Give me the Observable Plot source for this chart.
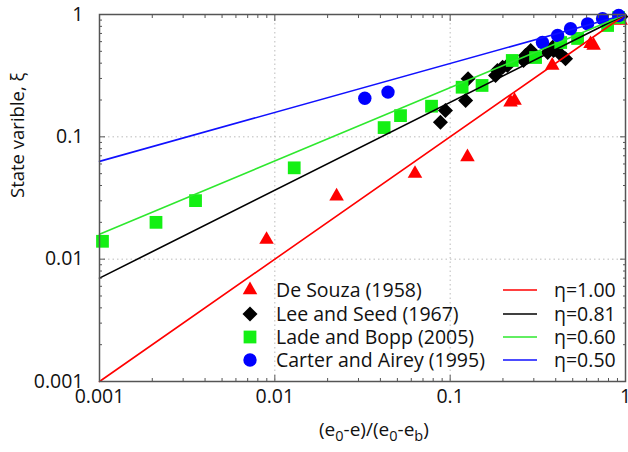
<!DOCTYPE html>
<html><head><meta charset="utf-8">
<script src="https://cdn.jsdelivr.net/npm/d3@7"></script>
<script src="https://cdn.jsdelivr.net/npm/@observablehq/plot@0.6"></script>
<style>
body{margin:0;background:#fff;font-family:"Open Sans",sans-serif;}
#wrap{position:relative;width:628px;height:452px;overflow:hidden;}
.ov{position:absolute;font-family:"Open Sans",sans-serif;font-size:19.5px;color:#111;white-space:nowrap;line-height:1;}
.xl{font-size:19px;}
.ov sub{font-size:14.5px;vertical-align:-5px;line-height:0;}
</style></head><body><div id="wrap"></div>
<script>
// ---- data ----
const deSouzaX = [0.00897, 0.0225, 0.063, 0.1255, 0.221, 0.233, 0.382, 0.632, 0.658, 0.938];
const deSouzaY = [0.01445, 0.0327, 0.050, 0.0684, 0.192, 0.198, 0.383, 0.576, 0.558, 0.893];

const leeSeedX = [0.088, 0.094, 0.1225, 0.1265, 0.1815, 0.186, 0.199, 0.212, 0.262, 0.269, 0.288, 0.360, 0.389, 0.427, 0.455, 0.384, 0.94];
const leeSeedY = [0.1316, 0.164, 0.198, 0.298, 0.317, 0.348, 0.371, 0.383, 0.421, 0.462, 0.508, 0.489, 0.508, 0.471, 0.434, 0.540, 0.96];

const ladeBoppX = [0.00104, 0.0021, 0.00353, 0.0129, 0.042, 0.0521, 0.0783, 0.117, 0.152, 0.226, 0.307, 0.427, 0.533, 0.791, 0.914];
const ladeBoppY = [0.014, 0.020, 0.0301, 0.0558, 0.119, 0.149, 0.178, 0.2544, 0.263, 0.421, 0.445, 0.590, 0.637, 0.813, 0.945];

const carterX = [0.0326, 0.0442, 0.336, 0.410, 0.486, 0.608, 0.740, 0.914];
const carterY = [0.207, 0.232, 0.590, 0.673, 0.764, 0.839, 0.922, 0.98];

const seriesNames = ["De Souza (1958)", "Lee and Seed (1967)", "Lade and Bopp (2005)", "Carter and Airey (1995)"];
const yAxisTitle = "State varible, ξ";

// fitted lines: value at x = 0.001 and at x = 1
const etaLabels = ["η=1.00", "η=0.81", "η=0.60", "η=0.50"];
const lineXStart = [0.001, 0.001, 0.001, 0.001];
const lineYStart = [0.001, 0.007, 0.016, 0.063];
const lineXEnd = [1, 1, 1, 1];
const lineYEnd = [1, 1, 1, 1];

const majorTicks = [0.001, 0.01, 0.1, 1];
const xTickLabels = ["0.001", "0.01", "0.1", "1"];
const yTickLabels = ["0.001", "0.01", "0.1", "1"];
const gridTicks = [0.01, 0.1];

// ---- styles ----
const colors = ["#ff0000", "#000000", "#14f014", "#0000ff"];
const lineColors = ["#ff0000", "#000000", "#2ee82e", "#1010ff"];
const diamond = {draw(ctx, size){const s = Math.sqrt(size/2); ctx.moveTo(0,-s); ctx.lineTo(s,0); ctx.lineTo(0,s); ctx.lineTo(-s,0); ctx.closePath();}};
const symbols = ["triangle", diamond, "square", "circle"];
const radii = [5.4, 6.0, 7.2, 6.7];

const pts = [[deSouzaX, deSouzaY], [leeSeedX, leeSeedY], [ladeBoppX, ladeBoppY], [carterX, carterY]]
  .map(([xs, ys], k) => xs.map((x, i) => ({x, y: ys[i], k})));

const lines = etaLabels.map((lab, k) => [
  {x: lineXStart[k], y: lineYStart[k], k},
  {x: lineXEnd[k], y: lineYEnd[k], k}
]);

const minor = [];
for (const d of [0.001, 0.01, 0.1]) for (let m = 2; m <= 9; m++) minor.push(+(d*m).toPrecision(3));

const fmtX = d => xTickLabels[majorTicks.indexOf(d)];
const fmtY = d => yTickLabels[majorTicks.indexOf(d)];
const axisStroke = "#555";

const marks = [
  Plot.gridX(gridTicks, {stroke: "#bbb", strokeOpacity: 1, strokeDasharray: "1.5,3"}),
  Plot.gridY(gridTicks, {stroke: "#bbb", strokeOpacity: 1, strokeDasharray: "1.5,3"}),
  ...pts.map((d, k) => Plot.dot(d, {x: "x", y: "y", symbol: () => symbols[k], r: radii[k], fill: colors[k], stroke: "none"})),
  ...lines.map((d, k) => Plot.line(d, {x: "x", y: "y", stroke: lineColors[k], strokeWidth: 1.6})),
  // inward ticks on all four sides
  ...["bottom", "top"].flatMap(a => [
    Plot.axisX(majorTicks, {anchor: a, tickSize: -6, text: null, label: null, stroke: axisStroke}),
    Plot.axisX(minor, {anchor: a, tickSize: -3, text: null, label: null, stroke: axisStroke})
  ]),
  ...["left", "right"].flatMap(a => [
    Plot.axisY(majorTicks, {anchor: a, tickSize: -6, text: null, label: null, stroke: axisStroke}),
    Plot.axisY(minor, {anchor: a, tickSize: -3, text: null, label: null, stroke: axisStroke})
  ]),
  Plot.axisX(majorTicks, {anchor: "bottom", tickSize: 0, tickPadding: 8, tickFormat: fmtX, label: null, fill: "#111"}),
  Plot.axisY(majorTicks, {anchor: "left", tickSize: 0, tickPadding: 16, tickFormat: fmtY, label: null, fill: "#111"}),
  Plot.text([yAxisTitle], {frameAnchor: "left", text: d => d, rotate: -90, dx: -81, fontSize: 18.5, fill: "#111"}),
  Plot.frame({stroke: axisStroke, strokeWidth: 1.5})
];

const chart = Plot.plot({
  width: 628, height: 452,
  marginLeft: 99, marginRight: 3, marginTop: 14, marginBottom: 71,
  style: {fontFamily: '"Open Sans", sans-serif', fontSize: "19.5px", color: "#111", background: "#fff"},
  x: {type: "log", domain: [0.001, 1]},
  y: {type: "log", domain: [0.001, 1]},
  marks
});

const wrap = document.getElementById("wrap");
wrap.appendChild(chart);

// x-axis label with subscripts
const xl = document.createElement("div");
xl.className = "ov xl";
xl.innerHTML = "(e<sub>0</sub>-e)/(e<sub>0</sub>-e<sub>b</sub>)";
wrap.appendChild(xl);
xl.style.left = (374 - xl.offsetWidth/2) + "px";
xl.style.top = "420px";

// legend
const legRows = [290, 313.5, 336.5, 359.5];
const d3syms = [d3.symbolTriangle, diamond, d3.symbolSquare, d3.symbolCircle];
seriesNames.forEach((name, k) => {
  const s = d3.create("svg").attr("width", 20).attr("height", 20)
    .style("position", "absolute").style("left", "240px").style("top", (legRows[k]-10) + "px");
  const gen = d3.symbol(d3syms[k], Math.PI*radii[k]*radii[k]);
  s.append("path").attr("d", gen()).attr("transform", "translate(10,10)").attr("fill", colors[k]);
  wrap.appendChild(s.node());
  const t = document.createElement("div");
  t.className = "ov"; t.textContent = name;
  t.style.left = "276px"; t.style.top = (legRows[k]-10) + "px";
  wrap.appendChild(t);

  const l = d3.create("svg").attr("width", 34).attr("height", 4)
    .style("position", "absolute").style("left", "503px").style("top", (legRows[k]-2) + "px");
  l.append("line").attr("x1", 0).attr("x2", 34).attr("y1", 2).attr("y2", 2).attr("stroke", lineColors[k]).attr("stroke-width", 1.6);
  wrap.appendChild(l.node());
  const e = document.createElement("div");
  e.className = "ov"; e.textContent = etaLabels[k];
  e.style.left = "554px"; e.style.top = (legRows[k]-10) + "px";
  wrap.appendChild(e);
});
</script>
</body></html>
